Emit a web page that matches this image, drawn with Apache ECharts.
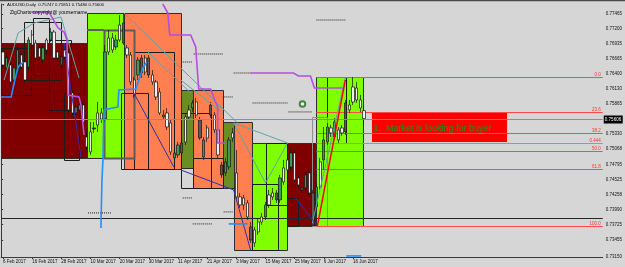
<!DOCTYPE html>
<html>
<head>
<meta charset="utf-8">
<script src="https://cdn.jsdelivr.net/npm/echarts@6/dist/echarts.min.js"></script>
<style>
html,body{margin:0;padding:0;background:#d6d6d6;}
#chart{width:625px;height:267px;}
</style>
</head>
<body>
<div id="chart"></div>
<script>
(function() {
	'use strict';

	// AUDUSD daily bars
	var opens = [
		.76788,.76504,.76557,.76291,.76433,.76734,.76610,.76522,.77089,.76947,
		.76859,.76646,.77001,.77001,.77142,.76788,.76557,.76823,.76770,.76061,
		.75706,.75759,.75848,.75280,.75369,.75422,.75706,.75706,.75599,.77036,
		.77036,.76876,.77267,.76947,.76859,.76734,.76291,.76380,.76415,.76681,
		.76380,.76380,.76256,.76078,.75635,.75706,.75528,.74908,.74961,.74996,
		.75635,.75759,.75794,.75901,.75262,.74925,.75440,.75670,.75670,.75404,
		.74606,.74642,.74748,.75351,.74642,.74216,.74198,.74109,.73453,.73630,
		.73772,.73861,.73861,.74251,.74287,.74163,.74163,.74730,.74872,.74748,
		.74996,.74553,.74340,.74375,.74642,.73719,.74038,.74837,.74872,.75191,
		.75440,.75280,.75404,.75440,.75369,.75848,.76167,.76149,.75936,.75747
	];
	var closes = [
		.76557,.76681,.76256,.76504,.76823,.76522,.76291,.77001,.76912,.76681,
		.76699,.76859,.76823,.77142,.76681,.76681,.76699,.76699,.75759,.75706,
		.75812,.75848,.75546,.75103,.75014,.75440,.75493,.75599,.76788,.76788,
		.76823,.77001,.77001,.77302,.76734,.76256,.76025,.76646,.76681,.76433,
		.76681,.76256,.75990,.75706,.75670,.75457,.75014,.74996,.75138,.75174,
		.75191,.75635,.75883,.75670,.75582,.75227,.75262,.75848,.75404,.74961,
		.74783,.74837,.75227,.75262,.74216,.74074,.74074,.73861,.73684,.73400,
		.73595,.73772,.74074,.74074,.74216,.74287,.74553,.74482,.74695,.74996,
		.74517,.74429,.74375,.74606,.74287,.74287,.74393,.74393,.75227,.75457,
		.75351,.75546,.75227,.75351,.75883,.75759,.75901,.75936,.75794,.75606
	];
	var lows = [
		.76504,.76468,.76202,.76238,.76398,.76468,.76238,.76468,.76859,.76610,
		.76646,.76593,.76734,.76965,.76646,.76610,.76504,.76646,.75706,.75635,
		.75670,.75706,.75493,.75014,.74961,.75351,.75369,.75528,.75546,.76734,
		.76770,.76823,.76965,.76912,.76681,.76202,.75972,.76291,.76327,.76380,
		.76327,.76202,.75936,.75670,.75582,.75404,.74961,.74872,.74908,.74943,
		.75138,.75582,.75724,.75617,.75227,.74872,.75191,.75617,.75351,.74908,
		.74553,.74588,.74695,.75191,.74163,.74021,.73985,.73808,.73400,.73329,
		.73542,.73719,.73808,.74021,.74163,.74109,.74109,.74429,.74642,.74695,
		.74464,.74375,.74287,.74340,.74234,.73701,.73985,.74340,.74695,.75138,
		.75280,.75227,.75174,.75298,.75316,.75706,.75848,.75883,.75724,.75480
	];
	var highs = [
		.76841,.76734,.76610,.76593,.76876,.76788,.76681,.77054,.77178,.77001,
		.76912,.76912,.77036,.77213,.77178,.76823,.76788,.76876,.76823,.76114,
		.75883,.75936,.75901,.75404,.75546,.75546,.75901,.75794,.76912,.77178,
		.77125,.77089,.77444,.77479,.76912,.76788,.76344,.76699,.76734,.76734,
		.76734,.76468,.76291,.76149,.75759,.75794,.75582,.75049,.75191,.75227,
		.75706,.75848,.75936,.75972,.75635,.75280,.75493,.75901,.75724,.75457,
		.74837,.74908,.75280,.75440,.75049,.74287,.74251,.74163,.73772,.73684,
		.73843,.73932,.74127,.74340,.74375,.74340,.74606,.74872,.74925,.75085,
		.75049,.74606,.74429,.74659,.74695,.74340,.74464,.74908,.75457,.75528,
		.75493,.75617,.75457,.75493,.75936,.75936,.76344,.76256,.76025,.75851
	];
	// bars drawn with a dark grey body
	var darkBars = [16, 20, 25, 33, 38, 40, 49, 54, 57, 60, 68, 75, 82, 85, 94];

	var dateLabels = ['6 Feb 2017', '16 Feb 2017', '28 Feb 2017', '10 Mar 2017', '20 Mar 2017', '30 Mar 2017',
		'11 Apr 2017', '21 Apr 2017', '3 May 2017', '15 May 2017', '25 May 2017', '6 Jun 2017', '16 Jun 2017'];
	var priceTicks = [0.7315, 0.73455, 0.73725, 0.7399, 0.74258, 0.74525, 0.74795, 0.75068, 0.7533,
		0.75865, 0.7613, 0.764, 0.76665, 0.76935, 0.772, 0.77465];

	// zones: [fromBar, toBar, top, bottom]
	var zones = [
		[0, 23.53, 0.76947, 0.74908],
		[23.53, 33.66, 0.77479, 0.74908],
		[33.66, 49.25, 0.77479, 0.74712],
		[49.25, 52.54, 0.76114, 0.74730],
		[52.54, 60.75, 0.76114, 0.74375],
		[60.75, 63.76, 0.75546, 0.74375],
		[63.76, 68.68, 0.75546, 0.73276],
		[68.68, 78.53, 0.75174, 0.73276],
		[78.53, 86.47, 0.75174, 0.73701],
		[86.47, 99.33, 0.76344, 0.73701],
		[101.52, 138.73, 0.75724, 0.75191]
	];
	var zoneTexts = ['', '', '', '', '', '', '', '', '', '', '1.  Market is looking for buyer'];

	var frames = [
		[6.29, 16.42, 0.77320, 0.76291],
		[8.76, 13.13, 0.77391, 0.76380],
		[13.13, 19.15, 0.77001, 0.75759],
		[17.24, 21.34, 0.76061, 0.74872],
		[0, 8.21, 0.76859, 0.76025],
		[36.39, 47.34, 0.76788, 0.74712],
		[32.84, 40.22, 0.76061, 0.74712],
		[49.25, 57.46, 0.75706, 0.74375],
		[52.54, 60.75, 0.74908, 0.74375],
		[68.68, 75.80, 0.74446, 0.73276],
		[72.51, 78.53, 0.75174, 0.74074],
		[78.53, 81.54, 0.74198, 0.73701],
		[89.48, 94.68, 0.76344, 0.75174]
	];
	var heavyFrames = [
		[28.18, 36.39, 0.77178, 0.74908]
	];
	var lightFrames = [
		[85.37, 89.48, 0.75635, 0.73701]
	];

	var purpleLines = [
		[[8.21, .77497], [13.13, .77497], [15.60, .77213], [17.24, .77142], [18.06, .77001], [18.33, .76025], [21.34, .75990], [21.89, .75848], [22.71, .75316]],
		[[44.33, .77639], [45.70, .77479], [46.24, .77089], [51.99, .77089], [53.36, .76876], [54.18, .76131], [57.46, .76131], [58.56, .75936], [59.38, .75812], [59.38, .75174], [61.57, .75174]],
		[[68.41, .76415], [80.18, .76415], [81.54, .76362], [84.83, .76362], [85.92, .76149], [93.86, .76149]]
	];
	var blueLines = [
		[[0, .75990], [2.74, .75990], [3.56, .76238], [4.65, .76522], [6.02, .76610]],
		[[27.36, .73666], [27.64, .74517], [27.91, .74872], [28.18, .75759], [32.02, .75812], [32.29, .76114], [36.94, .76131], [37.49, .76238], [38.86, .76504], [39.95, .76610]],
		[[62.39, .73737], [67.59, .73737]],
		[[94.68, .73169], [98.78, .73169]]
	];
	var tealLines = [
		[[0.82, .76291], [4.65, .77125], [9.03, .77302], [16.42, .77408], [21.34, .76327]],
		[[33.66, .77479], [64.85, .75528]],
		[[40.22, .76788], [51.99, .76061]],
		[[49.25, .76291], [60.75, .75706]],
		[[63.76, .75528], [72.51, .74464], [78.53, .75174], [63.76, .75528]],
		[[85.37, .73755], [94.40, .76327]]
	];
	var navyLines = [
		[[17.24, .76947], [21.89, .74925]],
		[[36.39, .76061], [47.34, .74748]],
		[[49.25, .74695], [63.76, .74340], [68.41, .73276]],
		[[80.72, .74198], [86.74, .73701]]
	];
	var greyLines = [
		[[23.53, .77178], [28.18, .77178]]
	];
	var redLines = [
		[[86.74, .73701], [94.40, .76291]]
	];
	var dottedLines = [
		[[49.80, .76610], [52.54, .76610]],
		[[52.81, .76752], [60.75, .76752]],
		[[63.76, .76415], [68.41, .76415]],
		[[86.47, .77355], [94.40, .77355]],
		[[61.02, .75990], [63.48, .75990]],
		[[68.96, .75883], [78.53, .75883]],
		[[78.81, .75724], [85.37, .75724]],
		[[49.80, .74198], [52.54, .74198]],
		[[61.02, .73950], [63.76, .73950]],
		[[52.54, .73737], [58.01, .73737]],
		[[23.81, .73932], [30.10, .73932]]
	];

	var fibStart = 86.47;
	var fibLevels = [0.76344, 0.75724, 0.75351, 0.75174, 0.75032, 0.74712, 0.73701];
	var fibNames = ['0.0', '23.6', '38.2', '0.444', '50.0', '61.8', '100.0'];
	var currentPrice = 0.75606;
	var supportLine = 0.73843;
	var markerPoint = [82.64, 0.75865];

	var SLOTS = 165;
	var STEP = 8;
	var FONT = '"Liberation Sans", Arial, sans-serif';

	var zoneFill = ['#800000', '#7fff00', '#ff7f50', '#6b8e23', '#ff7f50', '#6b8e23', '#ff7f50', '#7fff00', '#800000', '#7fff00', '#ff0000'];

	var slots = [];
	for(var i = 0; i < SLOTS; i++) {
		slots.push(String(i));
	}
	var showLabel = function(idx) {
		return idx % STEP === 0 && idx / STEP < dateLabels.length;
	};

	var candles = [];
	for(var k = 0; k < opens.length; k++) {
		var item = { value: [opens[k], closes[k], lows[k], highs[k]] };
		if(darkBars.indexOf(k) >= 0) {
			item.itemStyle = { color: '#5a5a5a', color0: '#5a5a5a' };
		}
		candles.push(item);
	}

	function crisp(v) {
		return Math.round(v) + 0.5;
	}

	function rectSeries(rows, styleFn, z) {
		return {
			type: 'custom', xAxisIndex: 1, yAxisIndex: 0, z: z, silent: true,
			data: rows.map(function(r) { return [r[0], r[2]]; }),
			renderItem: function(params, api) {
				var r = rows[params.dataIndex];
				var a = api.coord([r[0], r[2]]);
				var b = api.coord([r[1], r[3]]);
				var x0 = crisp(a[0]), y0 = crisp(a[1]);
				var x1 = crisp(b[0]), y1 = crisp(b[1]);
				var st = styleFn(params.dataIndex);
				var kids = [{
					type: 'rect',
					shape: { x: x0, y: y0, width: x1 - x0, height: y1 - y0 },
					style: st
				}];
				if(st.label) {
					kids.push({
						type: 'text', x: x0 + 2, y: (y0 + y1) / 2 + 1,
						style: { text: st.label, fill: '#1f8f1f', font: '9px ' + FONT, verticalAlign: 'middle', align: 'left' }
					});
				}
				return { type: 'group', children: kids };
			}
		};
	}

	function polySeries(lines, stroke, width, dash, z) {
		return {
			type: 'custom', xAxisIndex: 1, yAxisIndex: 0, z: z, silent: true,
			data: lines.map(function(l) { return l[0]; }),
			renderItem: function(params, api) {
				var pts = lines[params.dataIndex].map(function(p) { return api.coord(p); });
				return {
					type: 'polyline', shape: { points: pts },
					style: { stroke: stroke, lineWidth: width, fill: null, lineDash: dash || null }
				};
			}
		};
	}

	function levelSeries(levels, from, colorFn, labelFn, z) {
		return {
			type: 'custom', xAxisIndex: 1, yAxisIndex: 0, z: z, silent: true,
			data: levels.map(function(v) { return [from, v]; }),
			renderItem: function(params, api) {
				var v = levels[params.dataIndex];
				var a = api.coord([from, v]);
				var b = api.coord([SLOTS, v]);
				var y = crisp(a[1]);
				var kids = [{
					type: 'line', shape: { x1: a[0], y1: y, x2: b[0], y2: y },
					style: { stroke: colorFn(params.dataIndex), lineWidth: 1 }
				}];
				var extra = labelFn(params.dataIndex, b[0], y);
				if(extra) {
					kids = kids.concat(extra);
				}
				return { type: 'group', children: kids };
			}
		};
	}

	var chart = echarts.init(document.getElementById('chart'), null, { renderer: 'canvas' });

	var titleText = 'AUDUSD,Daily  ' + [opens[99], highs[99], lows[99], closes[99]].map(function(v) {
		return v.toFixed(5);
	}).join(' ');

	chart.setOption({
		animation: false,
		backgroundColor: '#d6d6d6',
		textStyle: { fontFamily: FONT },
		grid: { left: 0, right: 22, top: 4, bottom: 10, containLabel: false },
		xAxis: [{
			type: 'category', data: slots, boundaryGap: true, gridIndex: 0,
			axisLine: { lineStyle: { color: '#3a3a3a', width: 1 } },
			axisTick: { show: true, alignWithLabel: true, length: 2, interval: showLabel, lineStyle: { color: '#3a3a3a' } },
			axisLabel: {
				interval: showLabel, align: 'left', margin: 2.5, fontSize: 4.5, color: '#111', fontFamily: FONT,
				formatter: function(v) { return dateLabels[parseInt(v, 10) / STEP] || ''; }
			},
			splitLine: { show: false }
		}, {
			type: 'value', min: 0, max: SLOTS, show: false, gridIndex: 0
		}],
		yAxis: [{
			type: 'value', position: 'right', min: 0.7315, max: 0.77639,
			axisLine: { show: true, lineStyle: { color: '#3a3a3a', width: 1 } },
			axisTick: { show: true, length: 2, customValues: priceTicks, lineStyle: { color: '#3a3a3a' } },
			axisLabel: {
				customValues: priceTicks, margin: 3, fontSize: 4.5, color: '#111', fontFamily: FONT,
				formatter: function(v) { return v.toFixed(5); }
			},
			splitLine: { show: false }
		}],
		graphic: [
			{ type: 'line', z: 100, shape: { x1: 0, y1: 0.5, x2: 625, y2: 0.5 }, style: { stroke: '#4a4a4a', lineWidth: 1.5 } },
			{ type: 'text', z: 100, left: 1.5, top: 3, style: { text: '\u25BC', font: '3.5px ' + FONT, fill: '#3a3a3a' } },
			{ type: 'text', z: 100, left: 7, top: 3, style: { text: titleText, font: '4.3px ' + FONT, fill: '#000' } },
			{ type: 'text', z: 100, left: 10, top: 10.5, style: { text: 'ZigCharts copyright@ yoursername', font: '4.9px ' + FONT, fill: '#000' } }
		],
		series: [
			rectSeries(zones, function(k) {
				var last = k === zones.length - 1;
				return {
					fill: zoneFill[k], stroke: last ? '#cfcfcf' : '#2e2e2e', lineWidth: 1,
					label: zoneTexts[k]
				};
			}, 1),
			rectSeries(frames, function() {
				return { fill: null, stroke: '#1c1c1c', lineWidth: 1 };
			}, 2),
			rectSeries(heavyFrames, function() {
				return { fill: null, stroke: '#5c5c5c', lineWidth: 2 };
			}, 2),
			rectSeries(lightFrames, function() {
				return { fill: null, stroke: '#8e8e8e', lineWidth: 1 };
			}, 2),
			polySeries(greyLines, '#5c5c5c', 2, null, 2),
			levelSeries([supportLine], 0, function() { return '#262626'; }, function() { return null; }, 2),
			levelSeries(fibLevels, fibStart, function(k) {
				return fibNames[k] === '0.444' ? '#8b9bb0' : '#ff4a4a';
			}, function(k, xEnd, y) {
				return [{
					type: 'text', x: xEnd - 2, y: y - 0.5,
					style: { text: fibNames[k], fill: '#ff3030', font: '4.5px ' + FONT, align: 'right', verticalAlign: 'bottom' }
				}];
			}, 2),
			{
				type: 'candlestick', name: 'AUDUSD', xAxisIndex: 0, yAxisIndex: 0, z: 3,
				barWidth: 2.8, data: candles,
				itemStyle: { color: '#3f9a5a', color0: '#f3eef0', borderColor: '#161616', borderColor0: '#161616', borderWidth: 0.7 }
			},
			levelSeries([currentPrice], 0, function() { return '#7f90a4'; }, function(k, xEnd, y) {
				return [{
					type: 'rect', shape: { x: xEnd + 1, y: y - 4, width: 19, height: 8 }, style: { fill: '#000' }
				}, {
					type: 'text', x: xEnd + 2, y: y,
					style: { text: currentPrice.toFixed(5), fill: '#fff', font: '4.6px ' + FONT, align: 'left', verticalAlign: 'middle' }
				}];
			}, 4),
			polySeries(tealLines, '#5fa3a8', 1, null, 4),
			polySeries(navyLines, '#2f2fa6', 1, null, 4),
			polySeries(dottedLines, '#1a1a1a', 1, [1, 1], 4),
			polySeries(blueLines, '#1e90ff', 1.6, null, 5),
			polySeries(purpleLines, '#b44fe0', 1.6, null, 5),
			polySeries(redLines, '#ff0000', 1.5, null, 5),
			{
				type: 'scatter', xAxisIndex: 1, yAxisIndex: 0, z: 6, silent: true,
				symbol: 'emptyCircle', symbolSize: 5.5, data: [markerPoint],
				itemStyle: { color: '#1c6b1c', borderColor: '#1c6b1c', borderWidth: 1.5 }
			}
		]
	});
})();
</script>
</body>
</html>
